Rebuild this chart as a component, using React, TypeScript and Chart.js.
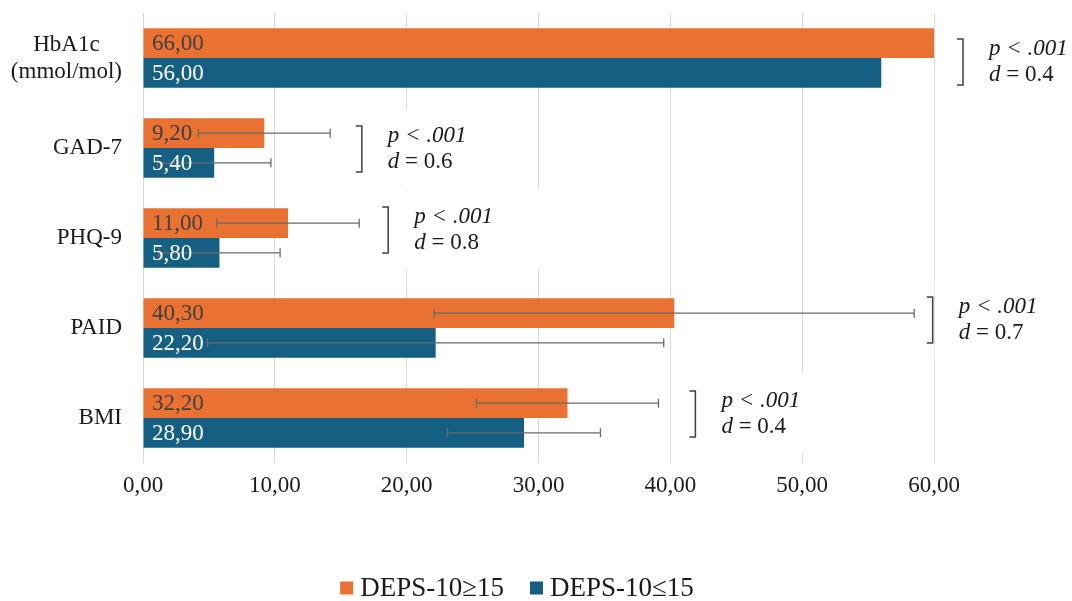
import React, { useEffect, useRef } from 'react';
import { Chart, registerables } from 'chart.js';

Chart.register(...registerables);

// ---- data ----
const categories: string[][] = [['HbA1c', '(mmol/mol)'], ['GAD-7'], ['PHQ-9'], ['PAID'], ['BMI']];
const seriesNames = ['DEPS-10≥15', 'DEPS-10≤15'];
const highMeans = [66.0, 9.2, 11.0, 40.3, 32.2];
const lowMeans = [56.0, 5.4, 5.8, 22.2, 28.9];
const highSD: (number | null)[] = [null, 5.0, 5.4, 18.2, 6.9];
const lowSD: (number | null)[] = [null, 4.3, 4.6, 17.3, 5.8];
const pLabels = ['p < .001', 'p < .001', 'p < .001', 'p < .001', 'p < .001'];
const effectSizes = ['0.4', '0.6', '0.8', '0.7', '0.4'];
const xTickValues = [0, 10, 20, 30, 40, 50, 60];

// ---- layout of annotations (x in axis units, dy in px from category centre) ----
const annotationX = [62.2, 16.6, 18.6, 59.9, 41.9];
const annotationDy = [4, 1, -8, -8, -4];

const COLORS = ['#E97132', '#156082'];
const LABEL_COLORS = ['#404040', '#ffffff'];
const FONT = '"Liberation Serif", "Times New Roman", serif';
const TEXT = '#1a1a1a';

const fmt = (v: number) => v.toFixed(2).replace('.', ',');

const customPlugin = {
  id: 'custom',
  beforeDatasetsDraw(chart: any) {
    const ctx = chart.ctx;
    const x = chart.scales.x;
    const y = chart.scales.y;
    ctx.save();
    categories.forEach((_, i) => {
      const bx = x.getPixelForValue(annotationX[i]);
      const cy = y.getPixelForValue(i) + annotationDy[i];
      // white text box (hides grid lines)
      ctx.fillStyle = '#ffffff';
      ctx.fillRect(bx + 2, cy - 40, 160, 80);
      // bracket
      ctx.strokeStyle = '#404040';
      ctx.lineWidth = 1.5;
      ctx.beginPath();
      ctx.moveTo(bx - 6, cy - 23);
      ctx.lineTo(bx, cy - 23);
      ctx.lineTo(bx, cy + 23);
      ctx.lineTo(bx - 6, cy + 23);
      ctx.stroke();
      // text
      const tx = bx + 26;
      ctx.fillStyle = TEXT;
      ctx.textBaseline = 'middle';
      ctx.textAlign = 'left';
      ctx.font = `italic 23px ${FONT}`;
      ctx.fillText(pLabels[i], tx, cy - 13);
      ctx.fillText('d', tx, cy + 13);
      const dw = ctx.measureText('d').width;
      ctx.font = `23px ${FONT}`;
      ctx.fillText(' = ' + effectSizes[i], tx + dw, cy + 13);
    });
    ctx.restore();
  },
  afterDatasetsDraw(chart: any) {
    const ctx = chart.ctx;
    const x = chart.scales.x;
    const y = chart.scales.y;
    const area = chart.chartArea;
    const sds = [highSD, lowSD];
    const means = [highMeans, lowMeans];
    ctx.save();
    // error bars
    ctx.strokeStyle = '#6b6b6b';
    ctx.lineWidth = 1.3;
    [0, 1].forEach((d) => {
      const meta = chart.getDatasetMeta(d);
      meta.data.forEach((bar: any, i: number) => {
        const sd = sds[d][i];
        if (sd == null) return;
        const m = means[d][i];
        const x0 = x.getPixelForValue(m - sd);
        const x1 = x.getPixelForValue(m + sd);
        const by = bar.y;
        ctx.beginPath();
        ctx.moveTo(x0, by);
        ctx.lineTo(x1, by);
        ctx.moveTo(x0, by - 4.5);
        ctx.lineTo(x0, by + 4.5);
        ctx.moveTo(x1, by - 4.5);
        ctx.lineTo(x1, by + 4.5);
        ctx.stroke();
      });
    });
    // value labels
    ctx.font = `23px ${FONT}`;
    ctx.textBaseline = 'middle';
    ctx.textAlign = 'left';
    [0, 1].forEach((d) => {
      const meta = chart.getDatasetMeta(d);
      meta.data.forEach((bar: any, i: number) => {
        ctx.fillStyle = LABEL_COLORS[d];
        ctx.fillText(fmt(means[d][i]), area.left + 9, bar.y + 1);
      });
    });
    // category labels
    ctx.fillStyle = TEXT;
    ctx.textAlign = 'center';
    const right = area.left - 21;
    categories.forEach((lines, i) => {
      const cy = y.getPixelForValue(i);
      const widest = Math.max(...lines.map((l) => ctx.measureText(l).width));
      const cx = right - widest / 2;
      const lh = 27;
      const top = cy - ((lines.length - 1) * lh) / 2;
      lines.forEach((l, k) => ctx.fillText(l, cx, top + k * lh));
    });
    // legend
    ctx.font = `27px ${FONT}`;
    const box = 13;
    const gapBoxText = 7;
    const gapItems = 26;
    const widths = seriesNames.map((s) => ctx.measureText(s).width);
    const total = widths.reduce((a, b) => a + b, 0) + 2 * (box + gapBoxText) + gapItems;
    let lx = chart.width / 2 - 19 - total / 2;
    const ly = 588;
    ctx.textAlign = 'left';
    seriesNames.forEach((s, k) => {
      ctx.fillStyle = COLORS[k];
      ctx.fillRect(lx, ly - box / 2, box, box);
      ctx.fillStyle = TEXT;
      ctx.fillText(s, lx + box + gapBoxText, ly + 1);
      lx += box + gapBoxText + widths[k] + gapItems;
    });
    ctx.restore();
  },
};

export default function App() {
  const ref = useRef<HTMLCanvasElement | null>(null);
  useEffect(() => {
    document.body.style.margin = '0';
    const canvas = ref.current!;
    const chart = new Chart(canvas, {
      type: 'bar',
      data: {
        labels: categories.map((c) => c.join(' ')),
        datasets: [
          {
            label: seriesNames[0],
            data: highMeans,
            backgroundColor: COLORS[0],
            barPercentage: 1,
            categoryPercentage: 0.66,
          },
          {
            label: seriesNames[1],
            data: lowMeans,
            backgroundColor: COLORS[1],
            barPercentage: 1,
            categoryPercentage: 0.66,
          },
        ],
      },
      options: {
        indexAxis: 'y',
        animation: false,
        responsive: false,
        devicePixelRatio: 1,
        layout: { padding: { left: 0, right: 138, top: 13, bottom: 0 } },
        plugins: { legend: { display: false }, tooltip: { enabled: false } },
        scales: {
          x: {
            min: 0,
            max: 60,
            afterFit: (s: any) => {
              s.height = 138;
            },
            afterBuildTicks: (s: any) => {
              s.ticks = xTickValues.map((v) => ({ value: v }));
            },
            grid: { color: '#d9d9d9', lineWidth: 1, drawTicks: false },
            border: { display: false },
            ticks: {
              padding: 9,
              color: TEXT,
              font: { family: FONT, size: 23 },
              callback: (v: any) => fmt(Number(v)),
            },
          },
          y: {
            afterFit: (s: any) => {
              s.width = 143;
            },
            grid: { display: false },
            border: { display: false },
            ticks: { display: false },
          },
        },
      },
      plugins: [customPlugin],
    });
    return () => chart.destroy();
  }, []);
  return (
    <div style={{ width: 1072, height: 601, background: '#fff' }}>
      <canvas ref={ref} width={1072} height={601} />
    </div>
  );
}
